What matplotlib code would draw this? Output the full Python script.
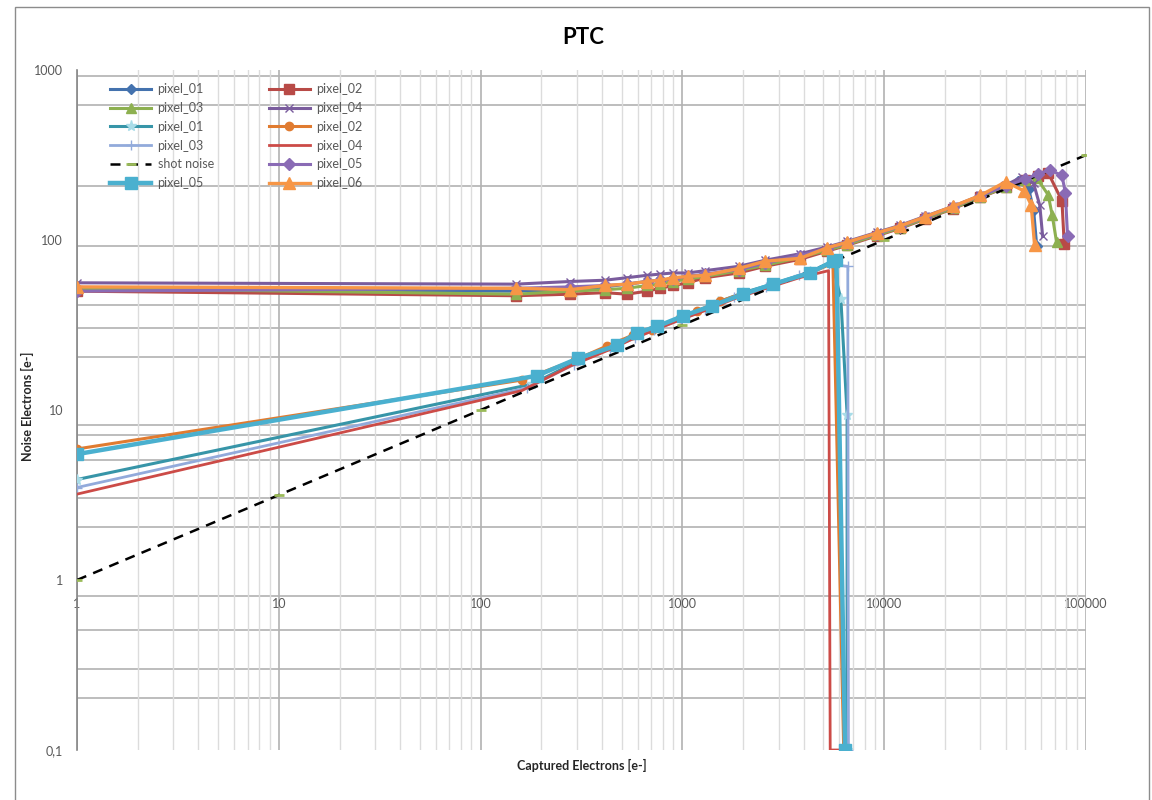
import matplotlib
matplotlib.use("Agg")
import matplotlib.pyplot as plt
from matplotlib.patches import Rectangle
from matplotlib.ticker import FixedLocator, NullFormatter

plt.rcParams['font.family'] = ['Liberation Sans Narrow', 'Lato', 'DejaVu Sans']

# ---------------- data ----------------
title = "PTC"
x_label = "Captured Electrons [e-]"
y_label = "Noise Electrons [e-]"
x_ticks = [1, 10, 100, 1000, 10000, 100000]
x_tick_labels = ["1", "10", "100", "1000", "10000", "100000"]
y_ticks = [0.1, 1, 10, 100, 1000]
y_tick_labels = ["0,1", "1", "10", "100", "1000"]
h_grid_values = [0.202, 0.30, 0.508, 0.805, 2.05, 3.04, 5.08, 7.13, 8.16,
                 20.5, 30.4, 41.5, 92.2, 208, 622, 922]

# upper group (large full well)
up_x = [1, 150, 277, 413, 531, 668, 774, 898, 1066, 1294, 1900, 2566, 3830,
        5210, 6550, 9210, 12000, 16000, 22000, 30000, 40000]

p01_x = up_x + [46000, 52000, 55000, 57000]
p01_y = [51, 50, 51, 53, 55, 57, 58, 59, 61, 62, 67, 72, 80, 88, 95, 108, 119,
         135, 155, 180, 205, 222, 200, 150, 92]

p02_x = up_x + [50000, 58000, 65000, 76000, 78000]
p02_y = [50, 47, 48, 49, 48, 50, 52, 54, 56, 60, 64, 70, 77, 86, 93, 106, 117,
         133, 153, 178, 204, 226, 238, 248, 170, 95]

p03_x = up_x + [50000, 57000, 65000, 68000, 71500]
p03_y = [52, 48, 50, 51, 52, 54, 55, 57, 59, 61, 66, 71, 79, 87, 94, 107, 118,
         134, 154, 179, 205, 225, 232, 184, 140, 97]

p04_x = up_x + [48000, 55000, 59000, 61000]
p04_y = [56, 55, 57, 58, 60, 62, 63, 64, 64, 66, 70, 76, 83, 91, 98, 111, 122,
         138, 158, 183, 210, 235, 215, 160, 105]

p05_x = up_x + [50000, 58000, 66000, 76000, 79000, 81000]
p05_y = [50, 52, 53, 54, 55, 57, 58, 59, 61, 63, 67, 73, 81, 89, 96, 109, 120,
         136, 157, 182, 208, 228, 245, 258, 240, 190, 106]

p06_x = up_x + [49500, 53500, 55600]
p06_y = [53, 52, 51, 54, 55, 57, 58, 60, 61, 62, 68, 75, 78, 90, 97, 110, 121,
         137, 158, 183, 220, 194, 161, 94]

# lower group (small full well)
p01b_x = [1, 180, 300, 450, 600, 750, 1000, 1500, 2000, 2800, 4300, 5500,
          6100, 6550, 6550]
p01b_y = [3.9, 14.2, 19.3, 23.5, 27.5, 30.5, 35, 43, 49, 55, 65, 74, 45,
          9.4, 0.1]

p02b_x = [1, 160, 294, 423, 569, 706, 973, 1180, 1535, 2000, 2810, 4290,
          5570, 6300]
p02b_y = [5.9, 15.0, 19.7, 23.8, 27.6, 29.5, 34.8, 38.2, 43.7, 48.5, 54.3,
          64, 73, 0.1]

p03b_x = [1, 170, 290, 440, 580, 720, 980, 1300, 1800, 2600, 3800, 5300,
          6600, 6650]
p03b_y = [3.5, 13.5, 18.5, 23, 26.5, 29.5, 34, 39, 46, 53, 62, 72, 70, 0.1]

p04b_x = [1, 160, 280, 430, 560, 700, 950, 1300, 1800, 2600, 3800, 5300,
          5400, 6300]
p04b_y = [3.2, 13.0, 18.2, 22.5, 26, 29, 33.5, 38.5, 45, 52, 60, 66, 0.1, 0.1]

p05b_x = [1, 190, 303, 474, 594, 748, 1005, 1400, 2000, 2810, 4290, 5570,
          5800, 6400]
p05b_y = [5.5, 15.9, 20.1, 24, 28.4, 31, 35.7, 41, 48, 55, 64, 75, 76, 0.1]

shot_x = [1, 10, 100, 1000, 10000, 100000]
shot_y = [1, 3.16, 10, 31.6, 100, 316]

series_names = ["pixel_01", "pixel_02", "pixel_03", "pixel_04",
                "pixel_01", "pixel_02", "pixel_03", "pixel_04",
                "shot noise", "pixel_05", "pixel_05", "pixel_06"]
series_x = [p01_x, p02_x, p03_x, p04_x, p01b_x, p02b_x, p03b_x, p04b_x,
            shot_x, p05_x, p05b_x, p06_x]
series_y = [p01_y, p02_y, p03_y, p04_y, p01b_y, p02b_y, p03b_y, p04b_y,
            shot_y, p05_y, p05b_y, p06_y]

# ---------------- styles ----------------
styles = [
    dict(color='#4472AE', marker='D', ms=5, lw=2.2),
    dict(color='#B84A47', marker='s', ms=7, lw=2.2),
    dict(color='#8DB050', marker='^', ms=7, lw=2.2),
    dict(color='#7A5C9D', marker='x', ms=6, lw=2.2, mew=1.0),
    dict(color='#3795A8', marker='*', ms=8, lw=2.2, mfc='#A8DCE8', mec='#A8DCE8'),
    dict(color='#E07B30', marker='o', ms=6, lw=2.2),
    dict(color='#92AADB', marker='+', ms=7, lw=2.0, mew=1.0),
    dict(color='#CC4B47', marker='None', ms=0, lw=2.0),
    dict(color='black', marker='_', ms=7, lw=1.8, ls=(0, (4, 3)), mec='#9BBB59', mew=2),
    dict(color='#8A6BB5', marker='D', ms=6, lw=2.2),
    dict(color='#4AB0CF', marker='s', ms=8, lw=3.2),
    dict(color='#F79646', marker='^', ms=8, lw=2.4),
]

W, H = 1152, 800
fig = plt.figure(figsize=(W / 100, H / 100), dpi=100)
left, right, top, bottom = 77, 1086, 70, 750
ax = fig.add_axes([left / W, 1 - bottom / H, (right - left) / W, (bottom - top) / H])
ax.set_xscale('log')
ax.set_yscale('log')
ax.set_xlim(1, 100000)
ax.set_ylim(0.1, 1000)

# grid
ax.xaxis.set_minor_locator(FixedLocator([m * 10 ** e for e in range(0, 5) for m in range(2, 10)]))
ax.xaxis.set_minor_formatter(NullFormatter())
ax.yaxis.set_minor_locator(FixedLocator([]))
ax.grid(which='minor', axis='x', color='#DCDCDC', lw=1.0, zorder=0)
ax.grid(which='major', axis='x', color='#B2B2B2', lw=1.2, zorder=0)
for v in h_grid_values:
    ax.axhline(v, color='#BDBDBD', lw=1.4, zorder=0.5)

lines = []
for xs, ys, name, st in zip(series_x, series_y, series_names, styles):
    kw = dict(color=st['color'], marker=st['marker'], markersize=st['ms'],
              linewidth=st['lw'], linestyle=st.get('ls', '-'), label=name,
              zorder=3)
    if 'mfc' in st:
        kw['markerfacecolor'] = st['mfc']
    if 'mec' in st:
        kw['markeredgecolor'] = st['mec']
    if 'mew' in st:
        kw['markeredgewidth'] = st['mew']
    ln, = ax.plot(xs, ys, **kw)
    lines.append(ln)

# axes
for s in ['top', 'right']:
    ax.spines[s].set_visible(False)
ax.spines['left'].set_color('#868686')
ax.spines['left'].set_linewidth(1.2)
ax.spines['bottom'].set_position(('data', 1))
ax.spines['bottom'].set_visible(False)

ax.set_xticks(x_ticks)
ax.set_xticklabels(x_tick_labels)
ax.set_yticks(y_ticks)
ax.set_yticklabels(y_tick_labels)
ax.tick_params(axis='x', which='both', length=0, pad=13, labelsize=9, labelcolor='#595959')
ax.tick_params(axis='y', which='both', length=0, pad=10, labelsize=9, labelcolor='#595959')

# legend laid out row-wise like the original (2 columns)
order = list(range(0, 12, 2)) + list(range(1, 12, 2))
leg = ax.legend([lines[i] for i in order], [series_names[i] for i in order],
                ncol=2, loc='upper left', bbox_to_anchor=(110 / W, 1 - 83 / H),
                bbox_transform=fig.transFigure, frameon=False, fontsize=9,
                handlelength=3.3, handletextpad=0.5, columnspacing=4.4,
                labelspacing=0.55, borderpad=0, borderaxespad=0, labelcolor='#595959')

fig.text(583 / W, 1 - 38 / H, title, ha='center', va='center', fontsize=16,
         fontweight='bold', color='black')
fig.text(582 / W, 1 - 765 / H, x_label, ha='center', va='center', fontsize=9,
         fontweight='bold', color='#262626')
fig.text(27 / W, 1 - 406 / H, y_label, ha='center', va='center', fontsize=9,
         fontweight='bold', rotation=90, color='#262626')

fig.add_artist(Rectangle((15 / W, -0.01), (1149 - 15) / W, 1.01 - 7 / H,
                         transform=fig.transFigure, fill=False,
                         edgecolor='#8C8C8C', linewidth=1.0))

fig.savefig('out.png', dpi=100)
